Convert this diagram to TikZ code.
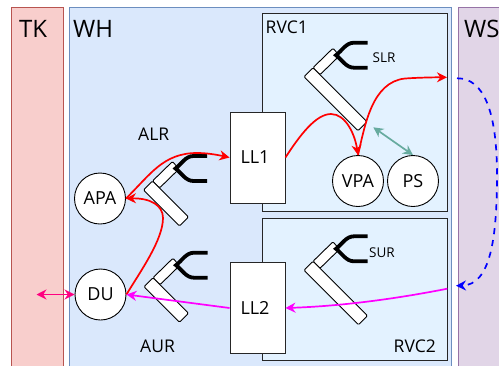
\documentclass[tikz,border=0pt]{standalone}
\usepackage{fontspec}
\setmainfont{Open Sans}
\usetikzlibrary{arrows.meta}
\definecolor{tkfill}{HTML}{F8CECC}
\definecolor{tkline}{HTML}{B85450}
\definecolor{whfill}{HTML}{DAE8FC}
\definecolor{whline}{HTML}{6C8EBF}
\definecolor{wsfill}{HTML}{E1D5E7}
\definecolor{wsline}{HTML}{9673A6}
\definecolor{rvcfill}{HTML}{E3F2FF}
\definecolor{tealarrow}{HTML}{67AB9F}
\definecolor{pinkarrow}{HTML}{FF0080}
\definecolor{magentaarrow}{HTML}{FF00FF}
\definecolor{redarrow}{HTML}{FF0000}
\definecolor{bluearrow}{HTML}{0000FF}
\tikzset{
	zone/.style={draw=#1line,fill=#1fill,line width=1pt,anchor=north west,inner sep=0pt},
	chamber/.style={draw=black!85,fill=rvcfill,line width=0.9pt,anchor=north west,inner sep=0pt},
	lock/.style={draw=black!85,fill=white,line width=0.9pt,minimum width=55pt,minimum height=91pt,inner sep=0pt,font=\fontsize{18}{18}\selectfont},
	station/.style={circle,draw=black,fill=white,line width=0.9pt,minimum size=51pt,inner sep=0pt,font=\fontsize{18}{18}\selectfont},
	biglabel/.style={anchor=base west,inner sep=0pt,font=\fontsize{24}{24}\selectfont},
	label/.style={anchor=base west,inner sep=0pt,font=\fontsize{17.5}{17.5}\selectfont},
	smalllabel/.style={anchor=base west,inner sep=0pt,font=\fontsize{13.5}{13.5}\selectfont},
	flow/.style={#1,line width=1.7pt,-{Stealth[length=10pt,width=10pt]}},
	swap/.style={#1,line width=1.7pt,{Stealth[length=10pt,width=10pt]}-{Stealth[length=10pt,width=10pt]}},
	pics/robotarm/.style={code={
		\draw[fill=white,line width=0.9pt,rounded corners=1.2pt] (9,-9) -- (29,-28.5) -- (35.5,-21) -- (16,-2) -- cycle;
		\draw[fill=white,line width=0.9pt,rounded corners=1.2pt] (0,0) -- (9,-9) -- (#1+9,#1-9) -- (#1,#1) -- cycle;
		\draw[line width=3.8pt] (63.5,-34) -- (50,-34) .. controls (42,-34) and (38,-26) .. (32,-21.5) .. controls (38,-17) and (42,-9) .. (50,-9) -- (63.5,-9);
	}}
}
\begin{document}
\begin{tikzpicture}[x=1pt,y=-1pt]
	\clip (0,0) rectangle (499,365);

	\node[zone=tk,minimum width=52pt,minimum height=370pt] (TK) at (10.5,6.5) {};
	\node[zone=wh,minimum width=382.5pt,minimum height=370pt] (WH) at (68.5,6.5) {};
	\node[zone=ws,minimum width=60pt,minimum height=370pt] (WS) at (457.5,6.5) {};
	\node[chamber,minimum width=185.5pt,minimum height=198pt] (RVC1) at (261.5,13) {};
	\node[chamber,minimum width=185pt,minimum height=142.5pt] (RVC2) at (262,217.5) {};

	\node[biglabel] (TKlabel) at (19,37) {TK};
	\node[biglabel] (WHlabel) at (73,37) {WH};
	\node[biglabel] (WSlabel) at (464,37) {WS};
	\node[label] (RVC1label) at (265.5,33) {RVC1};
	\node[label] (RVC2label) at (393.5,352) {RVC2};
	\node[label] (ALRlabel) at (138,140) {ALR};
	\node[label] (AURlabel) at (140,352) {AUR};
	\node[smalllabel] (SLRlabel) at (372.5,62) {SLR};
	\node[smalllabel] (SURlabel) at (369,257) {SUR};

	\pic (slr) at (304,76.7) {robotarm=54};
	\pic (alr) at (143.5,190) {robotarm=36};
	\pic (aur) at (144,286.7) {robotarm=35.5};
	\pic (sur) at (304,270.3) {robotarm=54.5};

	\node[lock] (LL1) at (257.5,157.5) {LL1\kern5pt};
	\node[lock] (LL2) at (257.5,308) {LL2\kern5pt};
	\node[station] (APA) at (100,198.5) {APA};
	\node[station] (DU) at (100.5,294.5) {DU};
	\node[station] (VPA) at (358,181) {VPA};
	\node[station] (PS) at (413,181) {PS};

	\coordinate (wsexit) at (447,77.3);
	\coordinate (wsstart) at (457,78.3);
	\coordinate (wsend) at (456,285.7);
	\coordinate (rvcexit) at (447.3,288.7);
	\coordinate (armtip) at (373.3,127.3);
	\coordinate (tkend) at (36.5,294.5);

	\draw[flow=redarrow] (APA.east) .. controls (150,175) and (163,153) .. (197,153) .. controls (208,153) and (218,155) .. (LL1.west);
	\draw[flow=redarrow] (DU.east) .. controls (140,272) and (163,240) .. (163,218) .. controls (163,205) and (150,198) .. (APA.east);
	\draw[flow=redarrow] (LL1.east) .. controls (300,135) and (316,114) .. (331,114) .. controls (346,114) and (355,135) .. (VPA.north);
	\draw[flow=redarrow] (VPA.north) .. controls (365,125) and (372,82) .. (405,78.5) .. controls (420,77.5) and (435,77.3) .. (wsexit);
	\draw[swap=tealarrow] (armtip) -- (PS.north);
	\draw[flow=bluearrow,dash pattern=on 6pt off 6pt] (wsstart) .. controls (484,78) and (497,112) .. (497,175) .. controls (497,240) and (490,285) .. (wsend);
	\draw[flow=magentaarrow] (rvcexit) .. controls (400,298) and (345,306) .. (LL2.east);
	\draw[flow=magentaarrow] (LL2.west) -- (DU.east);
	\draw[swap=pinkarrow] (tkend) -- (DU.west);
\end{tikzpicture}
\end{document}
